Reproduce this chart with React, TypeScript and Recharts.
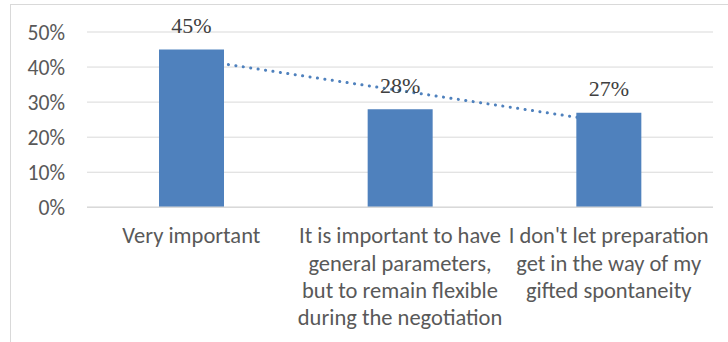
import React from 'react';
import { ComposedChart, Bar, Line, XAxis, YAxis, CartesianGrid, LabelList } from 'recharts';

// survey answers, split into the lines the reference wraps them to
const categories = [
  'Very important',
  'It is important to have\ngeneral parameters,\nbut to remain flexible\nduring the negotiation',
  "I don't let preparation\nget in the way of my\ngifted spontaneity",
];
const shares = [45, 28, 27];
// dotted linear trend line
const trend = [42.3, 33.3, 24.3];
const yTicks = [0, 10, 20, 30, 40, 50];

const data = categories.map((name, i) => ({ name, share: shares[i], trend: trend[i] }));

const SANS = 'Carlito, Lato, "Liberation Sans", sans-serif';
const SERIF = '"Liberation Serif", "Times New Roman", serif';
const GRID = '#d9d9d9';
const BLUE = '#4f81bd';

function CategoryTick(props: any) {
  const { x, y, payload } = props;
  const lines = String(payload.value).split('\n');
  return (
    <g>
      {lines.map((line: string, i: number) => (
        <text
          key={i}
          x={x}
          y={y + 36 + i * 27.3}
          textAnchor="middle"
          fill="#595959"
          style={{ fontSize: 22.5, fontFamily: SANS }}
        >
          {line}
        </text>
      ))}
    </g>
  );
}

function ValueLabel(props: any) {
  const { x, y, width, value } = props;
  return (
    <text
      x={x + width / 2}
      y={y - 16.5}
      textAnchor="middle"
      fill="#404040"
      style={{ fontSize: 22, fontFamily: SERIF }}
    >
      {`${value}%`}
    </text>
  );
}

export default function App() {
  return (
    <div style={{ position: 'absolute', left: 0, top: 0, width: 728, height: 342, overflow: 'hidden', background: '#fff' }}>
      <div style={{ position: 'absolute', left: 10, top: 4, width: 800, height: 400, border: `1px solid ${GRID}` }} />
      <div style={{ position: 'absolute', left: 0, top: 0 }}>
        <ComposedChart width={728} height={342} data={data} margin={{ top: 32, right: 15, bottom: 0, left: 0 }}>
          <CartesianGrid horizontal vertical={false} stroke={GRID} strokeWidth={1} />
          <XAxis
            dataKey="name"
            height={134.7}
            tick={<CategoryTick />}
            tickLine={false}
            tickSize={0}
            tickMargin={0}
            interval={0}
            axisLine={{ stroke: GRID, strokeWidth: 1.5 }}
          />
          <YAxis
            width={87}
            domain={[0, 50]}
            ticks={yTicks}
            tickFormatter={(v: number) => `${v}%`}
            axisLine={false}
            tickLine={false}
            tickSize={0}
            tickMargin={22}
            tick={{ fill: '#595959', fontSize: 21.7, fontFamily: SANS }}
          />
          <Line
            dataKey="trend"
            type="linear"
            stroke={BLUE}
            strokeWidth={3}
            strokeDasharray="0.1 7.4"
            strokeLinecap="round"
            dot={false}
            activeDot={false}
            zIndex={250}
            isAnimationActive={false}
          />
          <Bar dataKey="share" fill={BLUE} barSize={65} isAnimationActive={false}>
            <LabelList dataKey="share" content={<ValueLabel />} />
          </Bar>
        </ComposedChart>
      </div>
    </div>
  );
}
